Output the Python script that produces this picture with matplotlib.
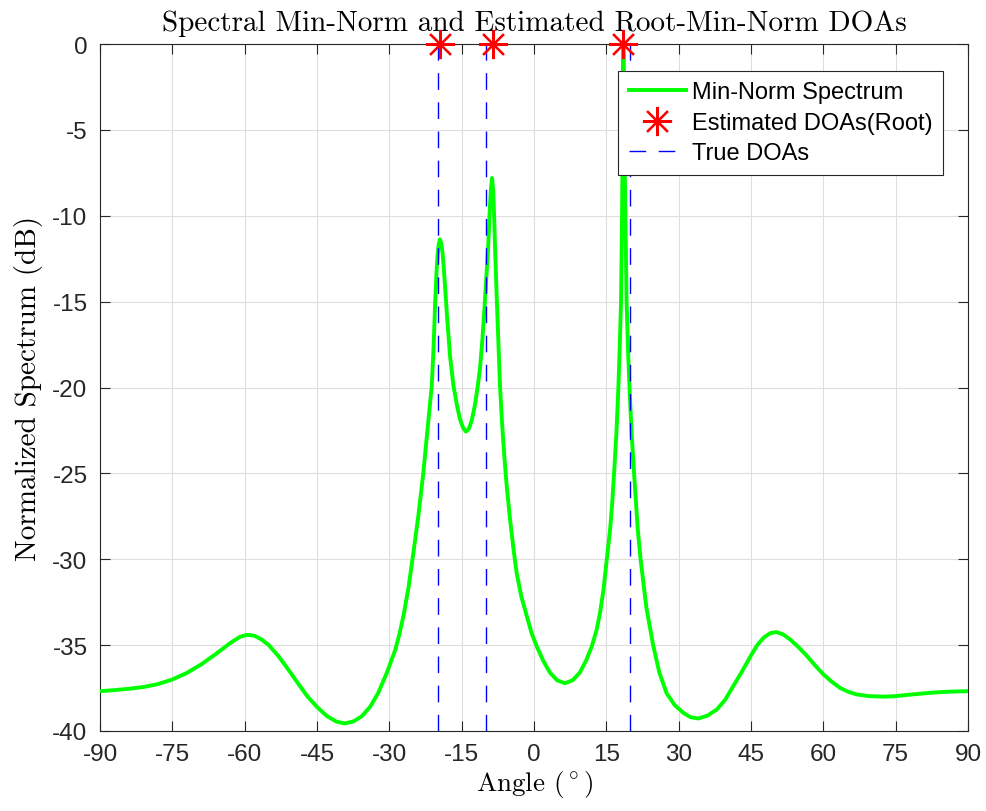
import numpy as np
import matplotlib
matplotlib.use('Agg')
from matplotlib import pyplot as plt

# spectrum (angle in degrees, normalized dB)
angles = [-90, -87, -84, -81, -78, -75, -72, -69, -66, -63, -61, -59.5, -58, -56.5,
          -55, -53, -51, -49, -47, -45, -43, -41, -39.3, -37.5, -35.7, -34, -32.3,
          -30.5, -28.8, -27.9, -27, -26, -25, -24, -23, -22, -21.2, -20.8, -20.5,
          -20.2, -20.0, -19.75, -19.5, -19.25, -19.0, -18.8, -18.4, -18.0, -17.4,
          -16.7, -16.0, -15.35, -14.7, -14.1, -13.5, -12.9, -12.3, -11.7, -11.2,
          -10.7, -10.2, -9.8, -9.5, -9.2, -8.95, -8.7, -8.45, -8.25, -8.05, -7.7,
          -7.35, -7.05, -6.6, -6.1, -5.67, -5.0, -4.3, -3.6, -2.6, -1.5, -0.5, 0.55,
          1.9, 3.3, 4.8, 6.4, 8.0, 9.5, 10.8, 12.0, 13.0, 13.7, 14.4, 15.1, 15.8,
          16.2, 16.6, 17.1, 17.5, 17.8, 18.05, 18.26, 18.4, 18.55, 18.7, 18.95, 19.2,
          19.5, 19.8, 20.25, 20.75, 21.5, 22.1, 23.3, 24.7, 26.0, 27.5, 29.2, 31.0,
          32.5, 34.1, 36.0, 37.9, 39.6, 41.3, 43.2, 45, 46.3, 47.6, 49, 50.3, 51.7,
          53.1, 54.8, 56.5, 58.2, 60, 61.7, 63.5, 65.2, 66.9, 69.5, 72.4, 75, 77.3,
          80, 82.8, 86, 90]
spectrum_db = [-37.68, -37.62, -37.54, -37.44, -37.27, -37.0, -36.62, -36.12, -35.52,
               -34.88, -34.52, -34.4, -34.45, -34.67, -35.0, -35.64, -36.4, -37.2,
               -37.98, -38.6, -39.12, -39.45, -39.56, -39.45, -39.14, -38.6, -37.78,
               -36.6, -35.3, -34.35, -33.2, -31.6, -29.6, -27.5, -25.1, -22.2, -19.9,
               -17.5, -15.06, -13.2, -12.3, -11.65, -11.37, -11.6, -12.1, -12.7,
               -14.3, -16.0, -18.2, -19.9, -21.0, -21.85, -22.35, -22.57, -22.4,
               -21.9, -21.1, -20.0, -18.9, -17.2, -15.06, -13.2, -11.8, -9.8, -8.5,
               -7.8, -8.6, -10.2, -12.1, -15.0, -17.6, -19.9, -22.2, -24.2, -25.7,
               -27.6, -29.3, -30.8, -32.2, -33.3, -34.3, -35.06, -35.9, -36.6, -37.05,
               -37.22, -37.05, -36.6, -35.9, -35.06, -34.1, -33.1, -31.8, -30.0,
               -28.2, -26.8, -25.0, -22.6, -20.0, -17.4, -15.0, -10.0, -5.0, 0.0, -5.0,
               -10.0, -15.0, -17.8, -20.0, -22.7, -25.0, -28.2, -30.0, -32.8, -35.0,
               -36.6, -37.8, -38.5, -38.95, -39.2, -39.27, -39.1, -38.75, -38.2,
               -37.4, -36.5, -35.6, -35.0, -34.57, -34.3, -34.24, -34.38, -34.67,
               -35.1, -35.6, -36.15, -36.7, -37.12, -37.5, -37.72, -37.87, -37.97,
               -38.0, -37.97, -37.9, -37.83, -37.76, -37.71, -37.68]

true_doas = [-20, -10, 20]
est_doas = [-19.4, -8.6, 18.4]
est_db = [0, 0, 0]

xticks = list(range(-90, 91, 15))
yticks = list(range(-40, 1, 5))

plt.rcParams['axes.unicode_minus'] = False
plt.rcParams['mathtext.fontset'] = 'cm'
dark = '#262626'
serif = 'cmr10'

fig = plt.figure(figsize=(9.86, 8.12), dpi=100)
ax = fig.add_axes([100/986, 80/812, 868/986, 687/812])

ax.plot(angles, spectrum_db, color=(0, 1, 0), lw=2.8, label='Min-Norm Spectrum', zorder=3)
ax.plot(est_doas, est_db, ls='none', marker=(8, 2, 0), ms=21, mew=1.6,
        color='red', label='Estimated DOAs(Root)', clip_on=False, zorder=5)
for i, d in enumerate(true_doas):
    ax.plot([d, d], [-40, 0], color='blue', lw=1.0, ls=(0, (12, 9)),
            label='True DOAs' if i == 0 else None, zorder=4)

ax.set_xlim(-90, 90)
ax.set_ylim(-40, 0)
ax.set_xticks(xticks)
ax.set_yticks(yticks)
ax.grid(True, color='#dedede', lw=0.8)
ax.set_axisbelow(True)
ax.tick_params(direction='in', length=7, width=0.8, colors=dark, labelsize=17.5,
               top=True, right=True, pad=9)
for lab in ax.get_xticklabels() + ax.get_yticklabels():
    lab.set_fontfamily('Liberation Sans')
for s in ax.spines.values():
    s.set_color(dark)
    s.set_linewidth(0.8)

ax.set_title('Spectral Min-Norm and Estimated Root-Min-Norm DOAs', fontfamily=serif,
             fontsize=21, pad=10)
ax.set_xlabel(r'Angle $(^\circ)$', fontfamily=serif, fontsize=19.5, labelpad=2)
ax.set_ylabel('Normalized Spectrum (dB)', fontfamily=serif, fontsize=21, labelpad=7)

leg = ax.legend(loc='upper right', bbox_to_anchor=(0.971, 0.961), borderaxespad=0,
                prop={'family': 'Liberation Sans', 'size': 17}, fancybox=False,
                framealpha=1, edgecolor=dark, handlelength=2.45, labelspacing=0.36,
                borderpad=0.45, handletextpad=0.22)
leg.get_frame().set_linewidth(0.8)

fig.savefig('out.png', dpi=100)
